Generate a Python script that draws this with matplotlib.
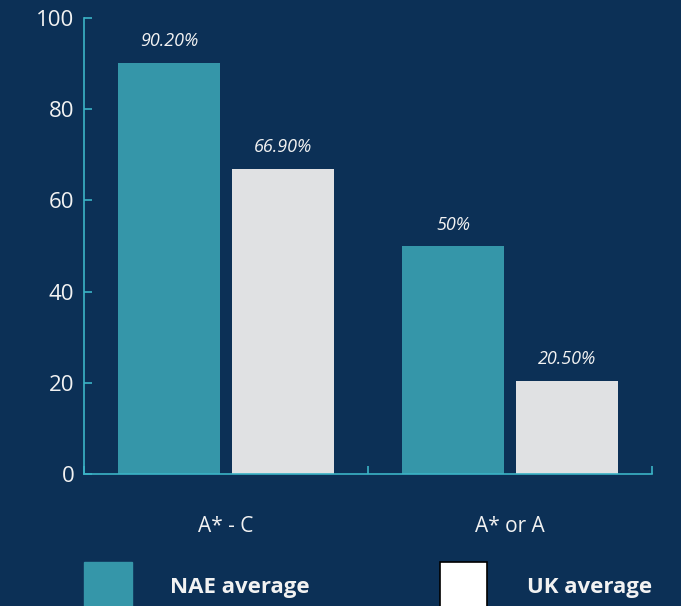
import matplotlib
matplotlib.use("Agg")
import matplotlib.pyplot as plt
from matplotlib.patches import Rectangle

categories = ["A* - C", "A* or A"]
nae_values = [90.2, 50.0]
uk_values = [66.9, 20.5]
nae_labels = ["90.20%", "50%"]
uk_labels = ["66.90%", "20.50%"]
series_names = ["NAE average", "UK average"]

BG = "#0c3056"
TEAL = "#3596a9"
GREY = "#e0e1e3"
AXIS = "#3bb3c6"
TEXT = "#f2f2f2"

plt.rcParams["font.family"] = ["Open Sans", "DejaVu Sans"]

fig = plt.figure(figsize=(6.81, 6.06), dpi=100)
fig.patch.set_facecolor(BG)
ax = fig.add_axes([84 / 681, 1 - 474 / 606, (652 - 84) / 681, (474 - 18) / 606])
ax.set_facecolor(BG)

centers = [i + 0.5 for i in range(len(categories))]
width = 0.36
nae_x = [c - 0.2 for c in centers]
uk_x = [c + 0.2 for c in centers]
nae_bars = ax.bar(nae_x, nae_values, width=width, color=TEAL, zorder=2)
uk_bars = ax.bar(uk_x, uk_values, width=width, color=GREY, zorder=2)

for bars, labels in [(nae_bars, nae_labels), (uk_bars, uk_labels)]:
    for b, lab in zip(bars, labels):
        ax.annotate(lab, (b.get_x() + b.get_width() / 2, b.get_height()),
                    xytext=(0, 9), textcoords="offset points",
                    ha="center", va="bottom", color=TEXT,
                    fontsize=13, style="italic")

ax.set_xlim(0, len(categories))
ax.set_ylim(0, 100)
ax.set_yticks([0, 20, 40, 60, 80, 100])
ax.set_xticks(centers)
ax.set_xticklabels(categories)
ax.set_xticks(range(len(categories) + 1), minor=True)

for s in ["top", "right"]:
    ax.spines[s].set_visible(False)
for s in ["left", "bottom"]:
    ax.spines[s].set_color(AXIS)
    ax.spines[s].set_linewidth(1.2)

ax.tick_params(axis="y", direction="in", length=6, color=AXIS, width=1.2,
               labelcolor=TEXT, labelsize=16, pad=7)
ax.tick_params(axis="x", which="major", length=0, labelcolor=TEXT,
               labelsize=15, pad=30)
ax.tick_params(axis="x", which="minor", direction="in", length=6,
               color=AXIS, width=1.2)

# legend drawn at the bottom of the figure
fig.add_artist(Rectangle((84 / 681, 0), 48 / 681, 44 / 606,
                         transform=fig.transFigure, color=TEAL))
fig.add_artist(Rectangle((440 / 681, -0.01), 47 / 681, 44 / 606 + 0.01,
                         transform=fig.transFigure, facecolor="white",
                         edgecolor="black", linewidth=1.2))
fig.text(170 / 681, 1 - 587 / 606, series_names[0], color=TEXT,
         fontsize=16, fontweight="bold", va="center", ha="left")
fig.text(527 / 681, 1 - 587 / 606, series_names[1], color=TEXT,
         fontsize=16, fontweight="bold", va="center", ha="left")

fig.savefig("out.png", dpi=100, facecolor=BG)
